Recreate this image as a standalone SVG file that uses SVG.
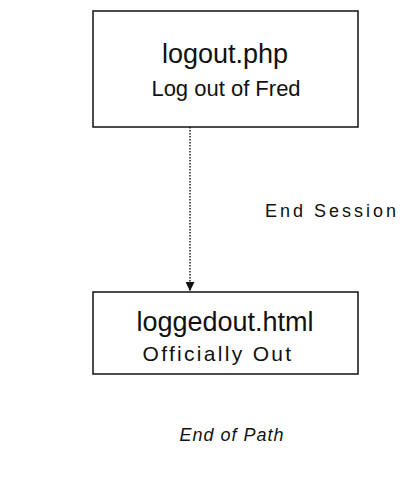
<svg xmlns="http://www.w3.org/2000/svg" width="407" height="477" viewBox="0 0 407 477">
<style>
.box{fill:#fff;stroke:#111;stroke-width:1.5}
.t{font-family:"Liberation Sans",Arial,sans-serif;fill:#111;text-anchor:middle}
.big{font-size:27px}
.sm{font-size:22px}
.lbl{font-size:18px;letter-spacing:3px;text-anchor:start}
</style>
<defs>
<marker id="ah" viewBox="0 0 10 10" refX="10" refY="5" markerWidth="9" markerHeight="9" markerUnits="userSpaceOnUse" orient="auto">
<path d="M0,0 L10,5 L0,10 Z" fill="#111"/>
</marker>
</defs>
<rect width="407" height="477" fill="#fff"/>
<g id="connectors">
<line x1="190" y1="127" x2="190" y2="291" stroke="#222" stroke-width="1.5" stroke-dasharray="1.5,1.5" marker-end="url(#ah)"/>
<text class="t lbl" x="265" y="217">End Session</text>
</g>
<g id="logout">
<rect class="box" x="93" y="11" width="265" height="116"/>
<text class="t big" x="225" y="63">logout.php</text>
<text class="t sm" x="226" y="96">Log out of Fred</text>
</g>
<g id="loggedout">
<rect class="box" x="93" y="292" width="265" height="82"/>
<text class="t big" x="225" y="331">loggedout.html</text>
<text class="t sm" x="218" y="361" style="font-size:21px;letter-spacing:2.3px">Officially Out</text>
</g>
<g id="endpath">
<text class="t" x="232" y="441" font-style="italic" style="font-size:18px;letter-spacing:1px">End of Path</text>
</g>
</svg>
